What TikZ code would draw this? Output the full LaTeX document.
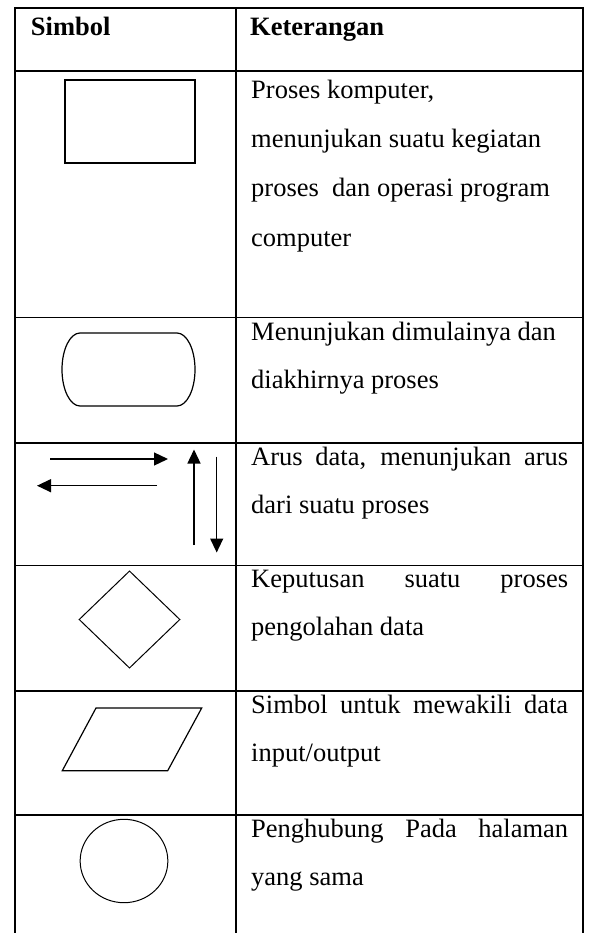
\documentclass[tikz,border=0pt]{standalone}
\usepackage{fontspec}
\setmainfont{Liberation Serif}
\usetikzlibrary{arrows.meta,shapes.geometric}
\begin{document}
\begin{tikzpicture}[x=1pt,y=-1pt,
  grid/.style={line width=1.8pt},
  sym/.style={draw,line width=1.2pt,inner sep=0pt},
  flow/.style={line width=1.3pt,-{Triangle[length=14pt,width=13pt]}},
  txt/.style={anchor=base west,inner sep=0pt,font=\fontsize{26.5}{50}\selectfont},
  hdr/.style={txt,font=\fontsize{26.5}{50}\selectfont\bfseries}]
\useasboundingbox (0,0) rectangle (590,933);
% table grid
\draw[grid] (14.7,933) -- (14.7,8) -- (583.3,8) -- (583.3,933);
\draw[grid] (236,8) -- (236,933);
\foreach \yy in {71,317.5,443,565.5,691,815}
  \draw[grid] (14.7,\yy) -- (583.3,\yy);
% header
\node[hdr] (h1) at (30.7,36) {Simbol};
\node[hdr] (h2) at (250,36) {Keterangan};
% row 1: process
\node[sym,rectangle,minimum width=130pt,minimum height=83pt] (proc) at (130,121.5) {};
\node[txt] (t11) at (251,99) {Proses komputer,};
\node[txt] (t12) at (251,148) {menunjukan suatu kegiatan};
\node[txt] (t13) at (251,197) {proses\ \ dan operasi program};
\node[txt] (t14) at (251,246) {computer};
% row 2: terminal
\draw[line width=1.2pt] (80,333) -- (177,333)
  arc[start angle=90,end angle=-90,x radius=18pt,y radius=36.5pt]
  -- (80,406)
  arc[start angle=270,end angle=90,x radius=18pt,y radius=36.5pt] -- cycle;
\node[txt] (t21) at (251,340.5) {Menunjukan dimulainya dan};
\node[txt] (t22) at (251,388.5) {diakhirnya proses};
% row 3: flow arrows
\coordinate (r1) at (50,459);   \coordinate (r2) at (168,459);
\coordinate (l1) at (157,485.7); \coordinate (l2) at (37,485.7);
\coordinate (u1) at (194,545);  \coordinate (u2) at (194,449.5);
\coordinate (d1) at (216.7,456.7); \coordinate (d2) at (216.7,552.5);
\draw[flow] (r1) -- (r2);
\draw[flow] (l1) -- (l2);
\draw[flow] (u1) -- (u2);
\draw[flow] (d1) -- (d2);
\node[txt] (t31) at (251,465) {\makebox[317pt][s]{Arus data, menunjukan arus}};
\node[txt] (t32) at (251,513) {dari suatu proses};
% row 4: decision
\node[sym,diamond,line width=1pt,minimum width=101pt,minimum height=97.3pt] (dec) at (129.5,619.5) {};
\node[txt] (t41) at (251,587.5) {\makebox[317pt][s]{Keputusan suatu proses}};
\node[txt] (t42) at (251,635.5) {pengolahan data};
% row 5: input/output
\coordinate (p1) at (96,708); \coordinate (p2) at (201.7,708);
\coordinate (p3) at (167.7,770.7); \coordinate (p4) at (62.3,770.7);
\draw[line width=1.2pt] (p1) -- (p2) -- (p3) -- (p4) -- cycle;
\node[txt] (t51) at (251,713) {\makebox[317pt][s]{Simbol untuk mewakili data}};
\node[txt] (t52) at (251,761) {input/output};
% row 6: connector
\node[sym,ellipse,line width=1pt,minimum width=87.7pt,minimum height=83.4pt] (conn) at (124,861) {};
\node[txt] (t61) at (251,837) {\makebox[317pt][s]{Penghubung Pada halaman}};
\node[txt] (t62) at (251,885) {yang sama};
\end{tikzpicture}
\end{document}
